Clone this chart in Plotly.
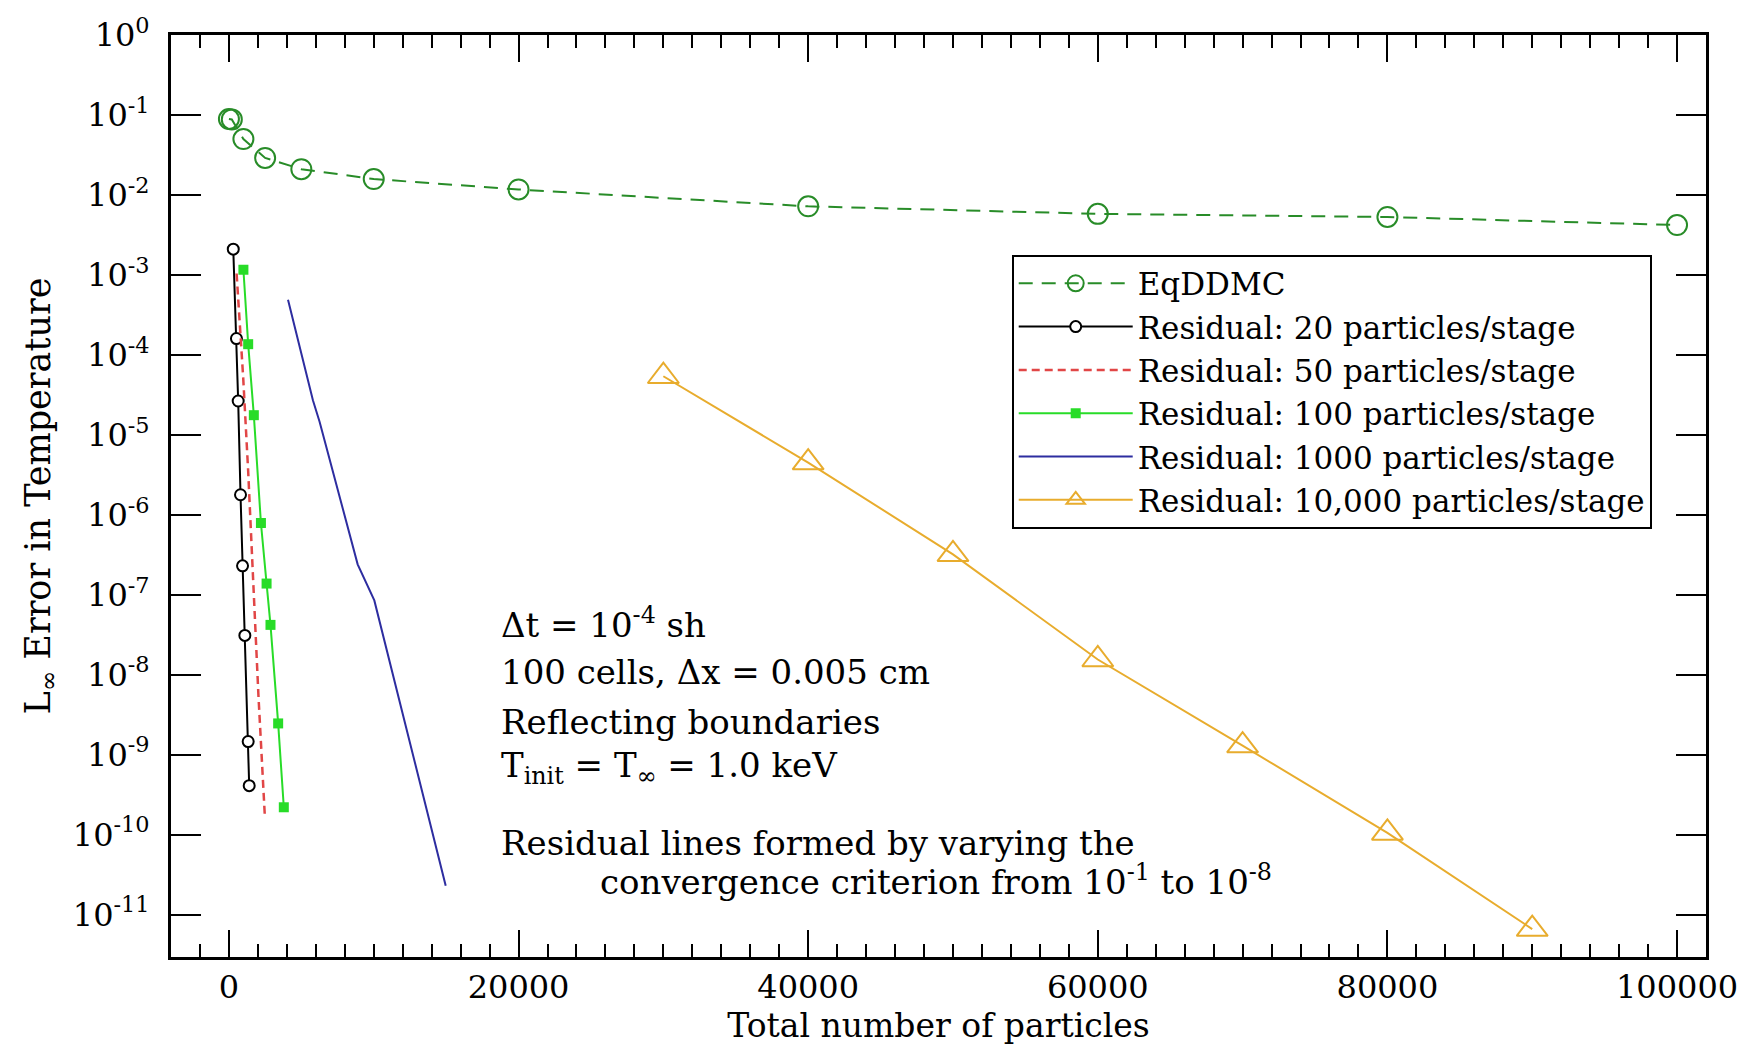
import plotly.graph_objects as go

# ---- data -------------------------------------------------------------
eq_x = [0, 200, 1000, 2500, 5000, 10000, 20000, 40000, 60000, 80000, 100000]
eq_y = [0.089, 0.088, 0.050, 0.029, 0.021, 0.0158, 0.0117, 0.0072, 0.0058, 0.0053, 0.0042]

r20_x = [300, 520, 640, 800, 940, 1100, 1330, 1400]
r20_y = [2.1e-3, 1.6e-4, 2.65e-5, 1.78e-6, 2.3e-7, 3.1e-8, 1.46e-9, 4.1e-10]

r50_x = [530, 985, 1330, 1675, 2040, 2480]
r50_y = [1.04e-3, 5.2e-5, 3.5e-6, 1.44e-7, 5.4e-9, 1.7e-10]

r100_x = [1000, 1330, 1720, 2210, 2600, 2870, 3400, 3790]
r100_y = [1.16e-3, 1.36e-4, 1.76e-5, 7.9e-7, 1.38e-7, 4.2e-8, 2.46e-9, 2.2e-10]

r1000_x = [4080, 5800, 6260, 8890, 10040, 14970]
r1000_y = [4.9e-4, 2.7e-5, 1.46e-5, 2.4e-7, 8.5e-8, 2.3e-11]

r10000_x = [30000, 40000, 50000, 60000, 70000, 80000, 90000]
r10000_y = [5.4e-5, 4.5e-6, 3.2e-7, 1.55e-8, 1.3e-9, 1.05e-10, 6.6e-12]

series_names = [
    "EqDDMC",
    "Residual: 20 particles/stage",
    "Residual: 50 particles/stage",
    "Residual: 100 particles/stage",
    "Residual: 1000 particles/stage",
    "Residual: 10,000 particles/stage",
]

y_exponents = list(range(0, -12, -1))
y_tickvals = [10.0 ** e for e in y_exponents]
y_ticktext = [f"10<sup>{e}</sup>" for e in y_exponents]
x_tickvals = [0, 20000, 40000, 60000, 80000, 100000]
x_ticktext = ["0", "20000", "40000", "60000", "80000", "100000"]

FONT = "DejaVu Serif"

fig = go.Figure()

fig.add_trace(go.Scatter(
    x=eq_x, y=eq_y, name=series_names[0], legendgroup="g0",
    mode="lines+markers",
    line=dict(color="rgb(40,140,40)", width=2, dash="14px,9px"),
    marker=dict(symbol="circle-open", size=20, color="rgb(40,140,40)",
                line=dict(width=2, color="rgb(40,140,40)")),
))
fig.add_trace(go.Scatter(
    x=r20_x, y=r20_y, name=series_names[1], legendgroup="g1",
    mode="lines+markers",
    line=dict(color="black", width=2),
    marker=dict(symbol="circle", size=11, color="white",
                line=dict(width=2, color="black")),
))
fig.add_trace(go.Scatter(
    x=r50_x, y=r50_y, name=series_names[2], legendgroup="g2",
    mode="lines",
    line=dict(color="rgb(225,70,70)", width=2.5, dash="8px,5px"),
))
fig.add_trace(go.Scatter(
    x=r100_x, y=r100_y, name=series_names[3], legendgroup="g3",
    mode="lines+markers",
    line=dict(color="rgb(40,220,40)", width=2),
    marker=dict(symbol="square", size=10, color="rgb(40,220,40)"),
))
fig.add_trace(go.Scatter(
    x=r1000_x, y=r1000_y, name=series_names[4], legendgroup="g4",
    mode="lines",
    line=dict(color="rgb(45,45,160)", width=2),
))
fig.add_trace(go.Scatter(
    x=r10000_x, y=r10000_y, name=series_names[5], legendgroup="g5",
    mode="lines+markers",
    line=dict(color="rgb(232,172,45)", width=2),
    marker=dict(symbol="triangle-up-open", size=27, color="rgb(232,172,45)",
                line=dict(width=2, color="rgb(232,172,45)")),
))

# ---- text block inside the plot -----------------------------------------
def px_x(p):
    return (p - 171) / 1541.0


def px_y(p):
    return (964 - p) / 936.0


notes = [
    ("Δt = 10<sup>-4</sup> sh", 500, 625),
    ("100 cells, Δx = 0.005 cm", 500, 675),
    ("Reflecting boundaries", 500, 725),
    ("T<sub>init</sub> = T<sub>∞</sub> = 1.0 keV", 500, 772),
    ("Residual lines formed by varying the", 500, 848),
    ("convergence criterion from 10<sup>-1</sup> to 10<sup>-8</sup>", 600, 886),
]
for txt, px, py in notes:
    fig.add_annotation(
        text=txt, x=px_x(px), y=px_y(py), xref="paper", yref="paper",
        xanchor="left", yanchor="middle", showarrow=False,
        font=dict(family=FONT, size=34, color="black"),
    )

axis_common = dict(
    showline=True, linecolor="black", linewidth=3, mirror="ticks",
    ticks="inside", tickcolor="black", tickwidth=2,
    showgrid=False, zeroline=False,
)

fig.update_xaxes(
    range=[-4000, 102000],
    tickvals=x_tickvals, ticktext=x_ticktext, ticklen=27,
    minor=dict(dtick=2000, ticks="inside", ticklen=13, tickwidth=2,
               tickcolor="black", showgrid=False),
    tickfont=dict(family=FONT, size=32, color="black"),
    title=dict(text="Total number of particles",
               font=dict(family=FONT, size=33, color="black"), standoff=8),
    **axis_common,
)
fig.update_yaxes(
    type="log", range=[-11.53, 0],
    tickvals=y_tickvals, ticktext=y_ticktext, ticklen=30,
    tickfont=dict(family=FONT, size=32, color="black"),
    ticklabelstandoff=12,
    title=dict(text="L<sub>∞</sub> Error in Temperature",
               font=dict(family=FONT, size=35, color="black"), standoff=12),
    **axis_common,
)

fig.update_layout(
    width=1750, height=1050,
    margin=dict(l=171, r=38, t=28, b=86),
    paper_bgcolor="white", plot_bgcolor="white",
    legend=dict(
        x=px_x(1015), y=px_y(251), xanchor="left", yanchor="top",
        bgcolor="white", bordercolor="black", borderwidth=2,
        font=dict(family=FONT, size=31, color="black"),
        tracegroupgap=0, itemwidth=114,
    ),
    showlegend=True,
)

fig.write_html("out.html")
